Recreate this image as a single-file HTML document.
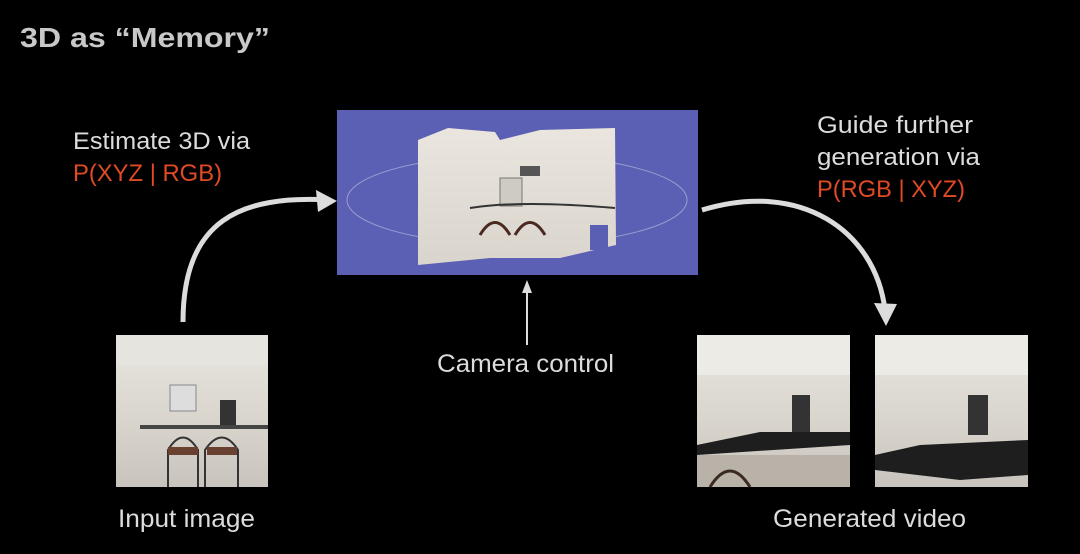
<!DOCTYPE html>
<html><head><style>
html,body{margin:0;padding:0;background:#000;}
svg{display:block}
text{font-family:"Liberation Sans",sans-serif;}
</style></head><body>
<svg width="1080" height="554" viewBox="0 0 1080 554">
<defs>
<linearGradient id="wall" x1="0" y1="0" x2="0" y2="1"><stop offset="0" stop-color="#eae6df"/><stop offset="1" stop-color="#d9d5cd"/></linearGradient>
<linearGradient id="kit" x1="0" y1="0" x2="0" y2="1"><stop offset="0" stop-color="#e8e6e0"/><stop offset="0.6" stop-color="#d8d4cc"/><stop offset="1" stop-color="#c8c4bd"/></linearGradient>
</defs>
<rect width="1080" height="554" fill="#000"/>
<text x="20" y="47" font-size="28" font-weight="bold" fill="#c8c8c8" textLength="250" lengthAdjust="spacingAndGlyphs">3D as “Memory”</text>

<text x="73" y="149" font-size="24" fill="#dcdcdc" textLength="177" lengthAdjust="spacingAndGlyphs">Estimate 3D via</text>
<text x="73" y="181" font-size="24" fill="#e04a24" textLength="149" lengthAdjust="spacingAndGlyphs">P(XYZ | RGB)</text>
<text x="817" y="133" font-size="24" fill="#dcdcdc" textLength="156" lengthAdjust="spacingAndGlyphs">Guide further</text>
<text x="817" y="165" font-size="24" fill="#dcdcdc" textLength="163" lengthAdjust="spacingAndGlyphs">generation via</text>
<text x="817" y="197" font-size="24" fill="#e04a24" textLength="148" lengthAdjust="spacingAndGlyphs">P(RGB | XYZ)</text>

<rect x="337" y="110" width="361" height="165" fill="#5b60b4"/>
<ellipse cx="517" cy="200" rx="170" ry="45" fill="none" stroke="#9a9ed0" stroke-width="1"/>
<path d="M418,140 L448,128 L495,132 L500,140 L540,130 L615,128 L616,245 L560,258 L490,258 L418,265 Z" fill="url(#wall)"/>
<rect x="500" y="178" width="22" height="28" fill="#cfcac2" stroke="#777" stroke-width="1"/>
<path d="M470,208 Q520,200 615,208" stroke="#333" stroke-width="2" fill="none"/>
<path d="M480,235 Q495,210 510,235 M515,235 Q530,210 545,235" stroke="#4a2a20" stroke-width="3" fill="none"/>
<rect x="590" y="225" width="18" height="25" fill="#5a5fb4"/>
<rect x="520" y="166" width="20" height="10" fill="#555"/>

<path d="M183,322 C183,220 240,195 330,200" stroke="#dcdcdc" stroke-width="5" fill="none"/>
<polygon points="337,201 316,190 318,212" fill="#dcdcdc"/>
<path d="M702,210 C800,180 875,230 885,310" stroke="#dcdcdc" stroke-width="5" fill="none"/>
<polygon points="886,326 874,303 897,304" fill="#dcdcdc"/>
<line x1="527" y1="345" x2="527" y2="290" stroke="#dcdcdc" stroke-width="2"/>
<polygon points="527,280 522,293 532,293" fill="#dcdcdc"/>
<text x="437" y="372" font-size="25" fill="#dcdcdc" textLength="177" lengthAdjust="spacingAndGlyphs">Camera control</text>

<rect x="116" y="335" width="152" height="152" fill="url(#kit)"/>
<rect x="116" y="335" width="152" height="30" fill="#e6e4df"/>
<rect x="170" y="385" width="26" height="26" fill="#ddd" stroke="#888"/>
<rect x="220" y="400" width="16" height="28" fill="#333"/>
<rect x="140" y="425" width="128" height="4" fill="#444"/>
<path d="M168,487 V450 Q183,425 198,450 V487 M205,487 V450 Q222,425 238,450 V487" stroke="#333" stroke-width="2" fill="none"/>
<rect x="168" y="447" width="30" height="8" fill="#6a4030"/><rect x="207" y="447" width="30" height="8" fill="#6a4030"/>
<text x="118" y="527" font-size="25" fill="#dcdcdc" textLength="137" lengthAdjust="spacingAndGlyphs">Input image</text>

<rect x="697" y="335" width="153" height="152" fill="url(#kit)"/>
<rect x="697" y="335" width="153" height="40" fill="#ecebe6"/>
<rect x="792" y="395" width="18" height="40" fill="#333"/>
<polygon points="697,445 760,432 850,432 850,445 697,455" fill="#1e1e1e"/>
<rect x="697" y="455" width="153" height="32" fill="#b9b2a8"/>
<path d="M710,487 Q730,455 750,487" stroke="#3a2a20" stroke-width="3" fill="none"/>
<rect x="875" y="335" width="153" height="152" fill="url(#kit)"/>
<rect x="875" y="335" width="153" height="40" fill="#ecebe6"/>
<rect x="968" y="395" width="20" height="40" fill="#333"/>
<polygon points="875,455 920,445 1028,440 1028,475 960,480 875,470" fill="#1e1e1e"/>
<text x="773" y="527" font-size="25" fill="#dcdcdc" textLength="193" lengthAdjust="spacingAndGlyphs">Generated video</text>
</svg>
</body></html>
